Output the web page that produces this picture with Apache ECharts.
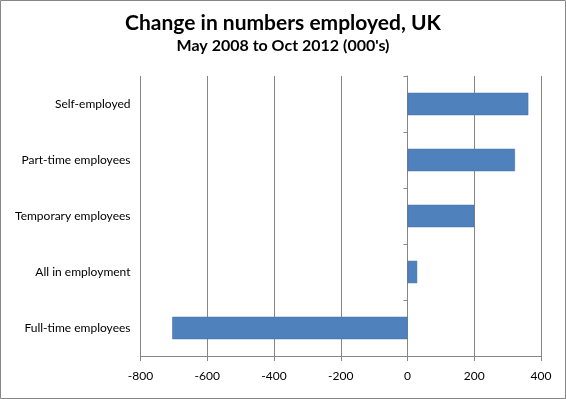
<!DOCTYPE html>
<html>
<head>
<meta charset="utf-8">
<script src="https://cdn.jsdelivr.net/npm/echarts@6/dist/echarts.min.js"></script>
<style>
  html, body { margin: 0; padding: 0; background: #fff; }
  #main { width: 566px; height: 399px; }
</style>
</head>
<body>
<div id="main"></div>
<script>
// categories bottom to top (ECharts draws first category at the bottom)
const categories = ['Full-time employees', 'All in employment', 'Temporary employees', 'Part-time employees', 'Self-employed'];
const changes = [-705, 29, 200, 322, 362];
const xTicks = [-800, -600, -400, -200, 0, 200, 400];

const chartDom = document.getElementById('main');
let myChart = echarts.init(chartDom);
let option;

const gray = '#868686';
const font = 'Lato, "DejaVu Sans", sans-serif';

option = {
    animation: false,
    textStyle: { fontFamily: font },
    title: {
        text: 'Change in numbers employed, UK',
        subtext: 'May 2008 to Oct 2012 (000\'s)',
        left: 'center',
        top: 8,
        itemGap: 4,
        textStyle: { fontSize: 21, fontWeight: 'bold', color: '#000', fontFamily: font },
        subtextStyle: { fontSize: 16, fontWeight: 'bold', color: '#000', fontFamily: font }
    },
    graphic: [{
        type: 'rect',
        shape: { x: 0.5, y: 0.5, width: 565, height: 398 },
        style: { fill: 'none', stroke: gray, lineWidth: 1 },
        silent: true
    }],
    grid: {
        left: 140.5,
        right: 25,
        top: 76,
        bottom: 43
    },
    xAxis: {
        type: 'value',
        min: xTicks[0],
        max: xTicks[xTicks.length - 1],
        interval: 200,
        axisLine: { show: true, lineStyle: { color: gray } },
        axisTick: { show: true, length: 5, lineStyle: { color: gray } },
        axisLabel: { color: '#000', fontSize: 12, margin: 14 },
        splitLine: { show: true, lineStyle: { color: gray } }
    },
    yAxis: [
        {
            // label-only axis at the left edge
            type: 'category',
            data: categories,
            position: 'left',
            axisLine: { show: false, onZero: false },
            axisTick: { show: false },
            axisLabel: { color: '#000', fontSize: 12, margin: 10 }
        },
        {
            // axis line with ticks crossing at zero
            type: 'category',
            data: categories,
            position: 'right',
            axisLine: { show: true, onZero: true, onZeroAxisIndex: 0, lineStyle: { color: gray } },
            axisTick: { show: true, inside: true, length: 4, lineStyle: { color: gray } },
            axisLabel: { show: false }
        }
    ],
    series: [
        {
            name: 'Change',
            type: 'bar',
            yAxisIndex: 0,
            barCategoryGap: '60%',
            itemStyle: { color: '#4F81BD', borderColor: '#3F6EA5', borderWidth: 0.5 },
            data: changes
        }
    ]
};

option && myChart.setOption(option);
</script>
</body>
</html>
